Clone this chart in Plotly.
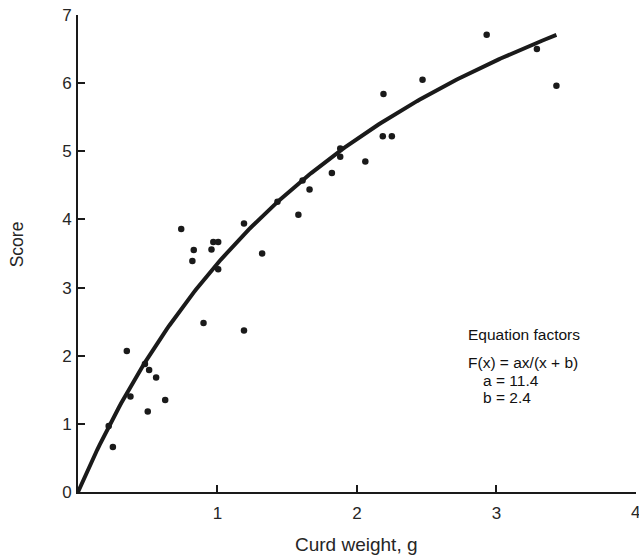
import numpy as np
import plotly.graph_objects as go

# Observed curd weight (g) and sensory score
curd_weight = [0.22, 0.25, 0.35, 0.376, 0.48, 0.50, 0.51, 0.56, 0.625, 0.74,
               0.82, 0.83, 0.90, 0.957, 0.97, 1.005, 1.005, 1.19, 1.19, 1.32,
               1.43, 1.58, 1.61, 1.66, 1.82, 1.88, 1.88, 2.06, 2.185, 2.19,
               2.25, 2.47, 2.93, 3.29, 3.43]
score = [0.97, 0.66, 2.07, 1.40, 1.88, 1.18, 1.79, 1.68, 1.35, 3.86,
         3.39, 3.55, 2.48, 3.56, 3.67, 3.67, 3.27, 3.94, 2.37, 3.50,
         4.26, 4.07, 4.57, 4.44, 4.68, 5.04, 4.92, 4.85, 5.22, 5.84,
         5.22, 6.05, 6.71, 6.50, 5.96]

# Fitted hyperbola F(x) = a*x / (x + b)
a_factor = 11.4
b_factor = 2.4
fit_x_max = 3.43

x_ticks = [1, 2, 3, 4]
y_ticks = [0, 1, 2, 3, 4, 5, 6, 7]

fx = np.linspace(0, fit_x_max, 200)
fy = a_factor * fx / (fx + b_factor)

font_family = "Liberation Sans, Arial, sans-serif"
ink = "#1a1a1a"
text_ink = "#262626"
tick_font = dict(family=font_family, size=17, color=text_ink)

fig = go.Figure()
fig.add_trace(go.Scatter(x=fx, y=fy, mode="lines",
                         line=dict(color=ink, width=4), hoverinfo="skip"))
fig.add_trace(go.Scatter(x=curd_weight, y=score, mode="markers",
                         marker=dict(color=ink, size=6.5), cliponaxis=False))

axis_common = dict(showline=True, linecolor=ink, linewidth=2, ticks="inside",
                   tickcolor=ink, tickwidth=2, ticklen=7, showgrid=False,
                   zeroline=False, tickfont=tick_font)

# The last x label sits on the page edge, so it is drawn as an annotation
# to keep the plot area from shrinking.
x_last = x_ticks[-1]
fig.update_xaxes(range=[0, 4.0005], tickvals=x_ticks,
                 ticktext=[str(t) if t != x_last else "" for t in x_ticks],
                 ticklabelstandoff=5, **axis_common)
fig.update_yaxes(range=[0, 7], tickvals=y_ticks,
                 ticktext=[str(t) for t in y_ticks],
                 ticklabelstandoff=1, **axis_common)

fig.update_layout(
    width=639, height=558,
    margin=dict(l=77.5, r=3, t=15, b=65.5),
    paper_bgcolor="white", plot_bgcolor="white",
    showlegend=False,
)

# Place text by pixel position relative to the plot area
pl, pr, pt, pb = 77.5, 636, 15, 492.5
def px_to_paper(px, py):
    return (px - pl) / (pr - pl), (pb - py) / (pb - pt)

_, ly = px_to_paper(0, 513)
fig.add_annotation(text=str(x_last), x=x_last, y=ly, xref="x", yref="paper",
                   xanchor="center", yanchor="middle",
                   showarrow=False, font=tick_font)

sx, sy = px_to_paper(16, 245)
fig.add_annotation(text="Score", x=sx, y=sy, xref="paper", yref="paper",
                   xanchor="center", yanchor="middle",
                   showarrow=False, textangle=-90,
                   font=dict(family=font_family, size=17.5, color=text_ink))
cx, cy = px_to_paper(356, 545)
fig.add_annotation(text="Curd weight, g", x=cx, y=cy, xref="paper", yref="paper",
                   xanchor="center", yanchor="middle", showarrow=False,
                   font=dict(family=font_family, size=19, color=text_ink))

label_font = dict(family=font_family, size=15.5, color="#111")
notes = [("Equation factors", 466, 335), ("F(x) = ax/(x + b)", 466, 363),
         ("a = 11.4", 481, 381), ("b = 2.4", 481, 398)]
for txt, nx, ny in notes:
    ax_, ay_ = px_to_paper(nx, ny)
    fig.add_annotation(text=txt, x=ax_, y=ay_, xref="paper", yref="paper",
                       xanchor="left", yanchor="middle", showarrow=False,
                       font=label_font)

fig.write_html("out.html")
